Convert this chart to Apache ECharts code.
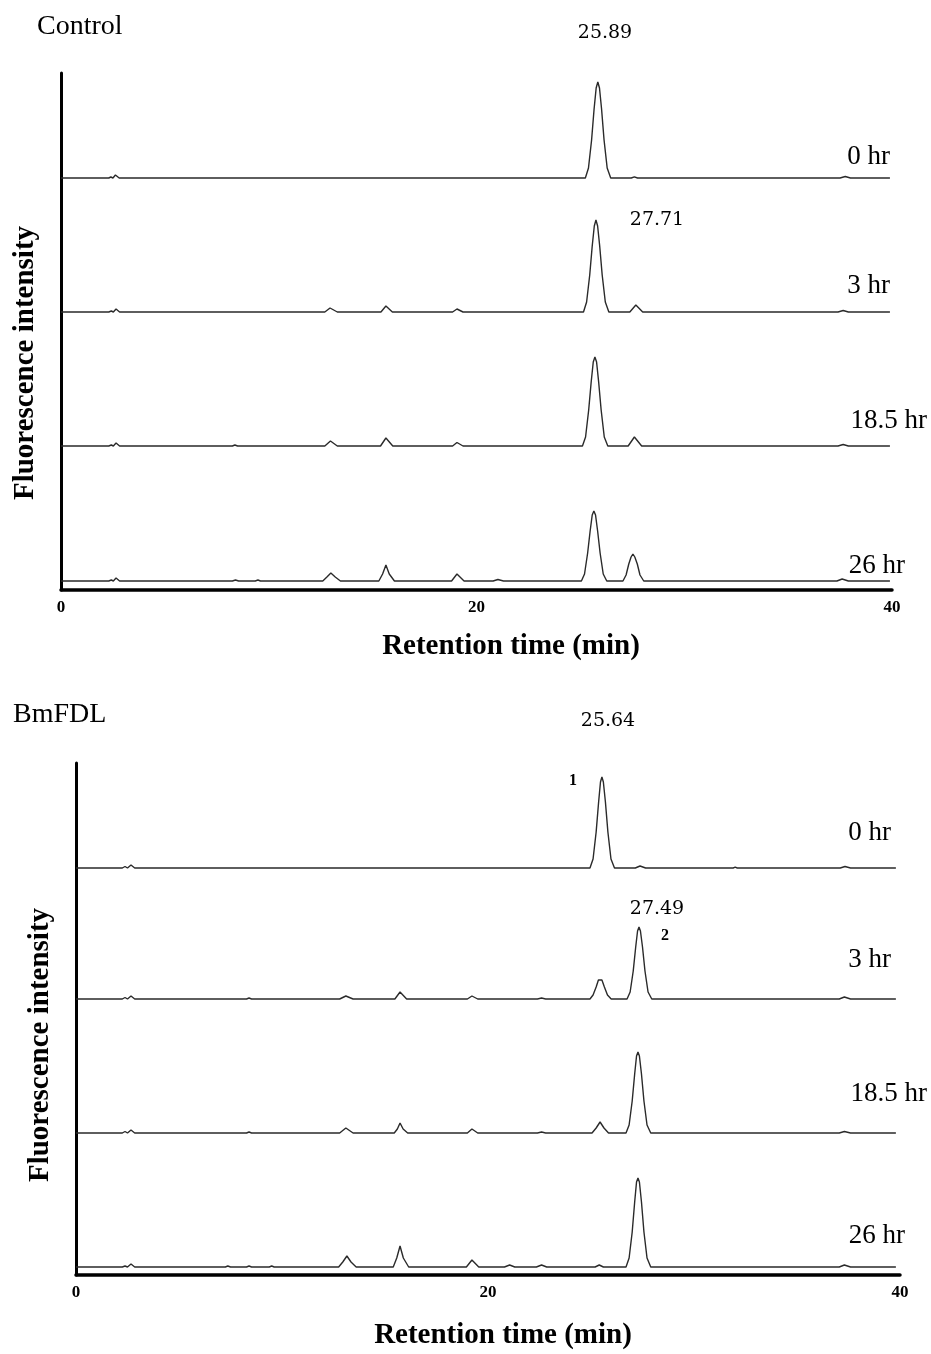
<!DOCTYPE html>
<html>
<head>
<meta charset="utf-8">
<script src="https://cdn.jsdelivr.net/npm/echarts@6/dist/echarts.min.js"></script>
<style>html,body{margin:0;padding:0;background:#fff}#c{width:931px;height:1354px}</style>
</head>
<body>
<div id="c"></div>
<script>
// ---- data: [retention time (min), intensity above trace baseline] ----
const xTicks = [0, 20, 40];
const traceLabels = ['0 hr', '3 hr', '18.5 hr', '26 hr'];

const ctrl0 = [[0,0],[2.3,0],[2.4,1],[2.5,0],[2.62,3],[2.8,0],
  [25.24,0],[25.39,10],[25.54,38],[25.66,69],[25.76,90],[25.84,96],[25.92,90],[26.02,69],[26.14,38],[26.29,10],[26.46,0],
  [27.45,0],[27.6,1.2],[27.75,0],[37.5,0],[37.75,1.5],[38.0,0],[39.9,0]];
const ctrl3 = [[0,0],[2.3,0],[2.42,1],[2.52,0],[2.65,3],[2.82,0],
  [12.7,0],[12.95,4],[13.3,0],[15.4,0],[15.64,6],[15.95,0],[18.85,0],[19.06,3],[19.35,0],
  [25.15,0],[25.3,10],[25.45,37],[25.57,66],[25.67,86],[25.75,92],[25.83,86],[25.93,66],[26.05,37],[26.2,10],[26.37,0],
  [27.38,0],[27.67,7],[28.0,0],[37.4,0],[37.65,1.5],[37.9,0],[39.9,0]];
const ctrl18 = [[0,0],[2.3,0],[2.42,1],[2.52,0],[2.65,3],[2.82,0],[8.25,0],[8.37,1],[8.5,0],
  [12.7,0],[12.97,5],[13.3,0],[15.38,0],[15.64,8],[15.97,0],[18.85,0],[19.06,3.5],[19.35,0],
  [25.1,0],[25.25,9],[25.4,36],[25.52,64],[25.62,84],[25.7,89],[25.78,84],[25.88,64],[26.0,36],[26.15,9],[26.32,0],
  [27.3,0],[27.6,9],[27.95,0],[37.4,0],[37.65,1.5],[37.9,0],[39.9,0]];
const ctrl26 = [[0,0],[2.3,0],[2.42,1],[2.52,0],[2.65,3],[2.82,0],[8.25,0],[8.4,1],[8.55,0],[9.35,0],[9.48,1],[9.6,0],
  [12.6,0],[12.8,4],[12.99,8],[13.2,4],[13.45,0],[15.3,0],[15.48,7],[15.64,16],[15.8,7],[16.05,0],
  [18.8,0],[19.06,7],[19.4,0],[20.8,0],[21.03,1.5],[21.3,0],
  [25.05,0],[25.2,7],[25.35,28],[25.47,50],[25.57,66],[25.65,70],[25.73,66],[25.83,50],[25.95,28],[26.1,7],[26.27,0],
  [27.05,0],[27.2,6],[27.33,17],[27.44,24],[27.53,27],[27.62,24],[27.74,17],[27.87,6],[28.05,0],
  [37.35,0],[37.6,2],[37.9,0],[39.9,0]];

const fdl0 = [[0,0],[2.25,0],[2.38,1.5],[2.5,0],[2.67,3],[2.85,0],
  [24.95,0],[25.1,9],[25.25,36],[25.37,66],[25.46,86],[25.53,91],[25.6,86],[25.7,66],[25.82,36],[25.97,9],[26.14,0],
  [27.15,0],[27.38,2],[27.65,0],[31.9,0],[32.0,0.8],[32.1,0],[37.1,0],[37.33,1.5],[37.6,0],[39.8,0]];
const fdl3 = [[0,0],[2.25,0],[2.38,1.5],[2.5,0],[2.67,3],[2.85,0],[8.28,0],[8.4,1],[8.52,0],
  [12.8,0],[13.1,3],[13.45,0],[15.48,0],[15.73,7],[16.05,0],[19.0,0],[19.22,3],[19.5,0],[22.4,0],[22.6,1],[22.8,0],
  [24.95,0],[25.1,4],[25.25,12],[25.36,19],[25.44,21],[25.53,19],[25.65,12],[25.8,4],[25.98,0],
  [26.75,0],[26.9,7],[27.05,28],[27.17,52],[27.26,68],[27.33,72],[27.4,68],[27.5,52],[27.62,28],[27.77,7],[27.95,0],
  [37.05,0],[37.3,2],[37.6,0],[39.8,0]];
const fdl18 = [[0,0],[2.25,0],[2.38,1.5],[2.5,0],[2.67,3],[2.85,0],[8.28,0],[8.4,1],[8.52,0],
  [12.8,0],[13.1,5],[13.45,0],[15.45,0],[15.6,4],[15.73,10],[15.88,4],[16.1,0],[19.0,0],[19.22,4],[19.5,0],[22.4,0],[22.6,1],[22.8,0],
  [25.05,0],[25.25,5],[25.44,11],[25.63,5],[25.85,0],
  [26.7,0],[26.85,8],[27.0,32],[27.12,59],[27.21,77],[27.28,81],[27.35,77],[27.45,59],[27.57,32],[27.72,8],[27.9,0],
  [37.05,0],[37.3,1.5],[37.6,0],[39.8,0]];
const fdl26 = [[0,0],[2.25,0],[2.38,1],[2.5,0],[2.67,3],[2.85,0],[7.25,0],[7.37,1],[7.5,0],[8.28,0],[8.4,1],[8.52,0],[9.38,0],[9.5,1],[9.62,0],
  [12.75,0],[12.95,5],[13.15,11],[13.35,5],[13.6,0],[15.4,0],[15.57,9],[15.73,21],[15.89,9],[16.15,0],
  [18.95,0],[19.22,7],[19.55,0],[20.8,0],[21.05,2],[21.3,0],[22.35,0],[22.6,2],[22.85,0],[25.2,0],[25.4,2],[25.6,0],
  [26.7,0],[26.85,9],[27.0,35],[27.12,65],[27.21,85],[27.28,89],[27.35,85],[27.45,65],[27.57,35],[27.72,9],[27.9,0],
  [37.05,0],[37.3,2],[37.6,0],[39.8,0]];

// vertical stacking of the traces (baseline offset, intensity units)
const ctrlOffsets = [412, 278, 144, 9];
const fdlOffsets = [407, 276, 142, 8];

// ---- chart ----
const chart = echarts.init(document.getElementById('c'));
const serif = '"Liberation Serif", "Times New Roman", serif';
const numFont = '"DejaVu Serif", serif';

function traces(list, offsets, gi) {
  return list.map((d, i) => ({
    type: 'line', xAxisIndex: gi, yAxisIndex: gi, symbol: 'none', silent: true,
    lineStyle: { color: '#2a2a2a', width: 1.4 },
    data: d.map(p => [p[0], p[1] + offsets[i]])
  }));
}

function xAxis(gi) {
  return {
    type: 'value', gridIndex: gi, min: 0, max: 40, interval: 20,
    axisLine: { show: true, onZero: false, lineStyle: { color: '#000', width: 3.5 } },
    axisTick: { show: false }, splitLine: { show: false },
    axisLabel: { color: '#000', fontFamily: serif, fontWeight: 'bold', fontSize: 17, margin: 9,
      formatter: v => xTicks.includes(v) ? String(v) : '' }
  };
}
function yAxis(gi, max) {
  return {
    type: 'value', gridIndex: gi, min: 0, max: max,
    axisLine: { show: true, lineStyle: { color: '#000', width: 3 } },
    axisTick: { show: false }, axisLabel: { show: false }, splitLine: { show: false }
  };
}
function txt(x, y, text, size, opts) {
  return { type: 'text', x: x, y: y, rotation: (opts && opts.rot) || 0, silent: true,
    style: { text: text, fontFamily: (opts && opts.font) || serif, fontSize: size,
      fontWeight: (opts && opts.bold) ? 'bold' : 'normal', fill: '#000',
      textAlign: (opts && opts.align) || 'center', textVerticalAlign: 'middle' } };
}

const ctrlTraces = [ctrl0, ctrl3, ctrl18, ctrl26];
const fdlTraces = [fdl0, fdl3, fdl18, fdl26];

chart.setOption({
  animation: false,
  backgroundColor: '#fff',
  grid: [
    { left: 61, right: 39, top: 73, bottom: 764 },
    { left: 76, right: 31, top: 763, bottom: 79 }
  ],
  xAxis: [xAxis(0), xAxis(1)],
  yAxis: [yAxis(0, 517), yAxis(1, 512)],
  series: traces(ctrlTraces, ctrlOffsets, 0).concat(traces(fdlTraces, fdlOffsets, 1)),
  graphic: [
    txt(37, 27, 'Control', 28, { align: 'left' }),
    txt(605, 33, '25.89', 19, { font: numFont }),
    txt(657, 220, '27.71', 19, { font: numFont }),
    txt(890, 157, traceLabels[0], 27, { align: 'right' }),
    txt(890, 286, traceLabels[1], 27, { align: 'right' }),
    txt(927, 421, traceLabels[2], 27, { align: 'right' }),
    txt(905, 566, traceLabels[3], 27, { align: 'right' }),
    txt(26, 363, 'Fluorescence intensity', 29, { bold: true, rot: Math.PI / 2 }),
    txt(511, 647, 'Retention time (min)', 29, { bold: true }),

    txt(13, 715, 'BmFDL', 28, { align: 'left' }),
    txt(608, 721, '25.64', 19, { font: numFont }),
    txt(573, 781, '1', 16, { bold: true }),
    txt(657, 909, '27.49', 19, { font: numFont }),
    txt(665, 936, '2', 16, { bold: true }),
    txt(891, 833, traceLabels[0], 27, { align: 'right' }),
    txt(891, 960, traceLabels[1], 27, { align: 'right' }),
    txt(927, 1094, traceLabels[2], 27, { align: 'right' }),
    txt(905, 1236, traceLabels[3], 27, { align: 'right' }),
    txt(41, 1045, 'Fluorescence intensity', 29, { bold: true, rot: Math.PI / 2 }),
    txt(503, 1336, 'Retention time (min)', 29, { bold: true })
  ]
});
</script>
</body>
</html>
